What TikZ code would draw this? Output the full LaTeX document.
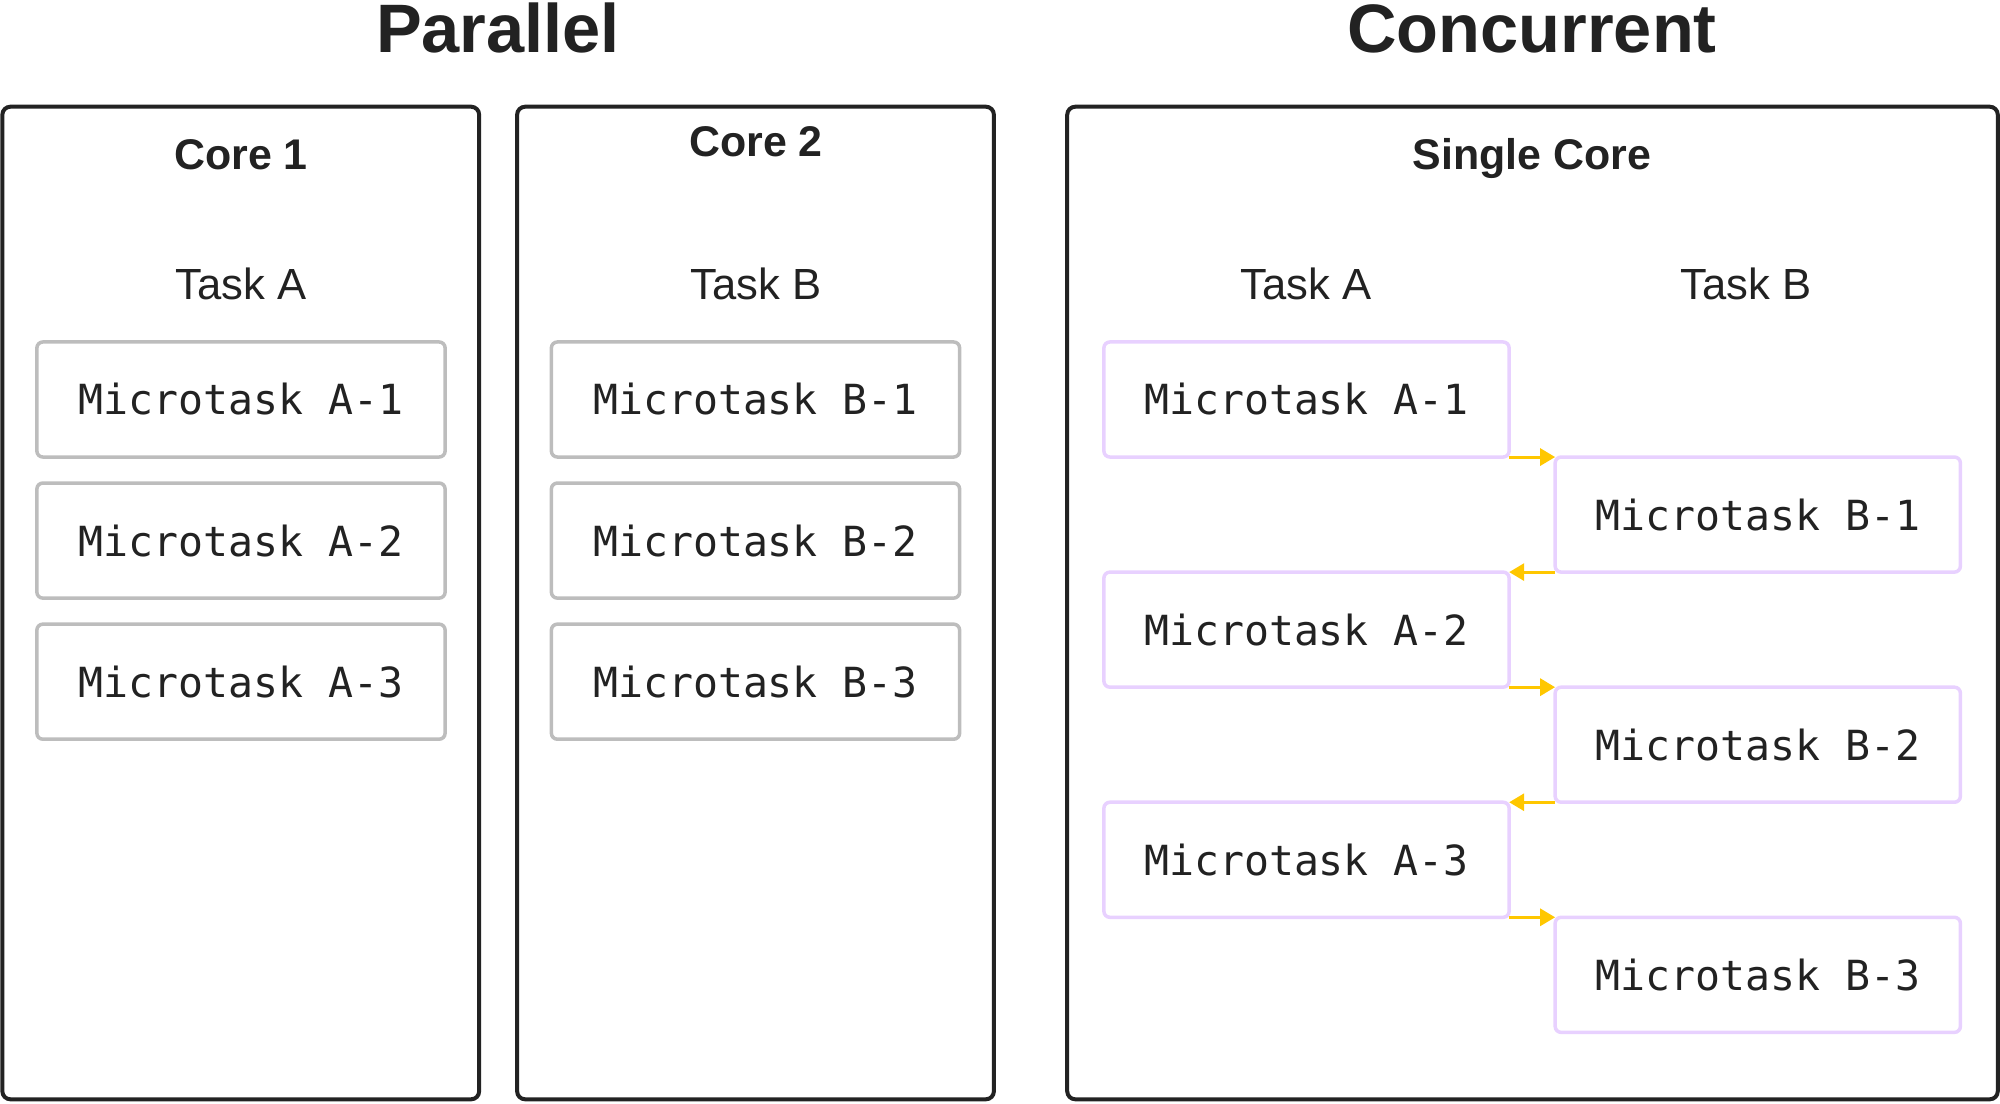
\documentclass[tikz,border=0pt]{standalone}
\usepackage{fontspec}
\setmainfont{Liberation Sans}
\setmonofont{DejaVu Sans Mono}
\usetikzlibrary{positioning, arrows.meta}
\definecolor{pcInk}{HTML}{222222}
\definecolor{pcGray}{HTML}{BDBDBD}
\definecolor{pcLilac}{HTML}{E8D1FF}
\definecolor{pcAmber}{HTML}{FFC700}
\tikzset{
    pcFrame/.style={
        rectangle,
        draw=pcInk,
        line width=0.04cm,
        rounded corners=0.08cm,
        minimum width=4.765cm,
        minimum height=9.92cm,
        inner sep=0pt
    },
    pcTaskBase/.style={
        rectangle,
        rounded corners=0.06cm,
        line width=0.035cm,
        minimum width=4.08cm,
        minimum height=1.15cm,
        inner sep=0pt,
        outer sep=0pt,
        text=pcInk,
        font=\fontsize{11.8}{14}\selectfont\ttfamily
    },
    % Variants
    parTask/.style={pcTaskBase, draw=pcGray},
    conTask/.style={pcTaskBase, draw=pcLilac, minimum width=4.05cm},
    % Labels
    pcTitle/.style={anchor=base, inner sep=0pt, text=pcInk, font=\fontsize{19.5}{22}\selectfont\bfseries},
    pcCore/.style={anchor=base, inner sep=0pt, text=pcInk, font=\fontsize{12.2}{14}\selectfont\bfseries},
    pcLane/.style={anchor=base, inner sep=0pt, text=pcInk, font=\fontsize{12.4}{14}\selectfont}
}

\begin{document}
\begin{tikzpicture}[
  x=0.01cm, y=-0.01cm,
  flow/.style={-{Triangle[length=0.15cm, width=0.17cm]}, line width=0.03cm, draw=pcAmber}
]
\useasboundingbox (0,0) rectangle (2000,1103);

\node[pcTitle] (tpar) at (498,52) {Parallel};
\node[pcTitle] (tcon) at (1532,52) {Concurrent};

\node[pcFrame] (core1) at (240.75,603) {};
\node[pcFrame] (core2) at (755.5,603) {};
\node[pcFrame, minimum width=9.3cm] (single) at (1532.5,603) {};

\node[pcCore] (hc1) at (241,169) {Core 1};
\node[pcCore] (hc2) at (756,156) {Core 2};
\node[pcCore] (hsc) at (1532,169) {Single Core};

\node[pcLane] (la) at (241,299) {Task A};
\node[pcLane] (lb) at (756,299) {Task B};
\node[pcLane] (sa) at (1306,299) {Task A};
\node[pcLane] (sb) at (1746,299) {Task B};

% Parallel
\node[parTask] (pa1) at (241,399.5) {Microtask A-1};
\node[parTask, below=0.26cm of pa1] (pa2) {Microtask A-2};
\node[parTask, below=0.26cm of pa2] (pa3) {Microtask A-3};

\node[parTask] (pb1) at (755.5,399.5) {Microtask B-1};
\node[parTask, below=0.26cm of pb1] (pb2) {Microtask B-2};
\node[parTask, below=0.26cm of pb2] (pb3) {Microtask B-3};

% Concurrent
\node[conTask] (ca1) at (1306.5,399.5) {Microtask A-1};
\node[conTask, below right=0cm and 0.46cm of ca1] (cb1) {Microtask B-1};
\node[conTask, below left=0cm and 0.46cm of cb1] (ca2) {Microtask A-2};
\node[conTask, below right=0cm and 0.46cm of ca2] (cb2) {Microtask B-2};
\node[conTask, below left=0cm and 0.46cm of cb2] (ca3) {Microtask A-3};
\node[conTask, below right=0cm and 0.46cm of ca3] (cb3) {Microtask B-3};

\draw[flow] (ca1.south east) -- (cb1.north west);
\draw[flow] (cb1.south west) -- (ca2.north east);
\draw[flow] (ca2.south east) -- (cb2.north west);
\draw[flow] (cb2.south west) -- (ca3.north east);
\draw[flow] (ca3.south east) -- (cb3.north west);
\end{tikzpicture}
\end{document}
